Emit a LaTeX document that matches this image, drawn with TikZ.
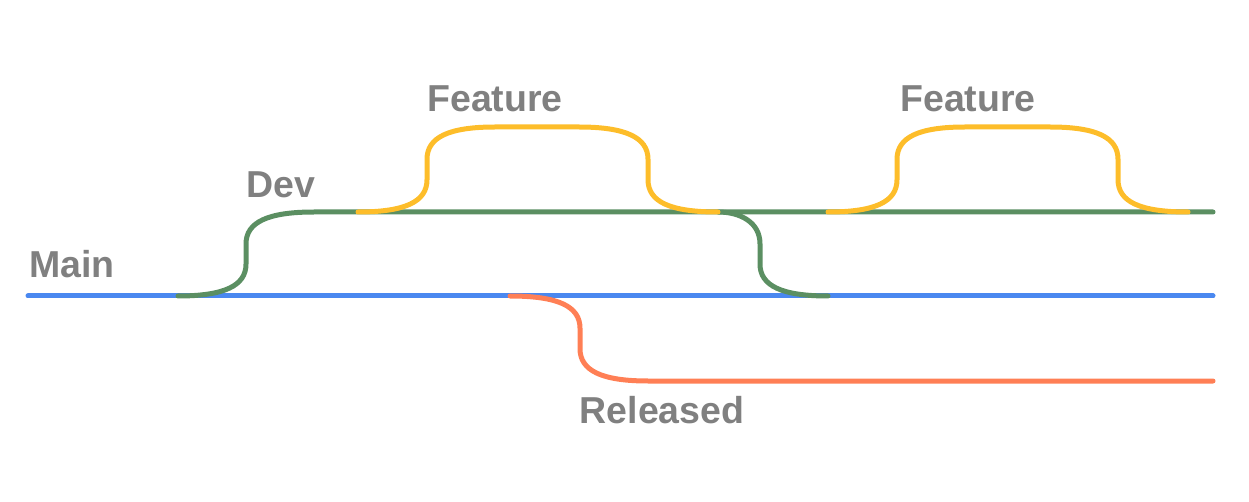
\documentclass[tikz,border=0pt]{standalone}
\usepackage{fontspec}
\setmainfont{Liberation Sans}
\definecolor{cmain}{HTML}{4A88F0}
\definecolor{cdev}{HTML}{5B8F62}
\definecolor{cfeat}{HTML}{FDBD2A}
\definecolor{crel}{HTML}{FF7F55}
\definecolor{ctext}{HTML}{808080}
% #1 x start, #2 y start, #3 x of vertical part, #4 y end
\newcommand\sUp[4]{.. controls ({#3-22},#2) and (#3,{#2+(#4-#2)*0.12}) .. (#3,{#2+(#4-#2)*0.38}) -- (#3,{#2+(#4-#2)*0.62}) .. controls (#3,{#2+(#4-#2)*0.88}) and ({#3+22},#4) .. ({#3+68},#4)}
\begin{document}
\begin{tikzpicture}[x=1pt,y=-1pt,line cap=round,
  lane/.style={line width=5pt},
  lbl/.style={text=ctext,font=\fontsize{37.5}{40}\selectfont\bfseries,anchor=base,inner sep=0pt}]
\useasboundingbox (0,0) rectangle (1249,502);
% coordinates
\coordinate (m0) at (28,296);
\coordinate (m1) at (1213,296);
\coordinate (d0) at (178,296);
\coordinate (d1) at (1213,212);
\coordinate (dd0) at (718,212);
\coordinate (dd1) at (828,296);
\coordinate (r0) at (510,296);
\coordinate (r1) at (1213,381);
\coordinate (fa0) at (358,212);
\coordinate (fa1) at (718,212);
\coordinate (fb0) at (828,212);
\coordinate (fb1) at (1188,212);
% main
\draw[lane,cmain] (m0) -- (m1);
% released
\draw[lane,crel] (r0) \sUp{510}{296}{580}{381} -- (r1);
% dev
\draw[lane,cdev] (d0) \sUp{178}{296}{246}{212} -- (d1);
\draw[lane,cdev] (dd0) .. controls (740,212) and (760,{212+84*0.12}) .. (760,{212+84*0.38}) -- (760,{212+84*0.62}) .. controls (760,{212+84*0.88}) and (782,296) .. (dd1);
% features
\draw[lane,cfeat] (fa0) \sUp{358}{212}{427}{127} -- (579,127)
  .. controls (625,127) and (648,{127+85*0.12}) .. (648,{127+85*0.38}) -- (648,{127+85*0.62}) .. controls (648,{127+85*0.88}) and (670,212) .. (fa1);
\draw[lane,cfeat] (fb0) \sUp{828}{212}{897}{127} -- (1050,127)
  .. controls (1096,127) and (1118,{127+85*0.12}) .. (1118,{127+85*0.38}) -- (1118,{127+85*0.62}) .. controls (1118,{127+85*0.88}) and (1140,212) .. (fb1);
% labels
\node[lbl] (tmain) at (72,278) {Main};
\node[lbl] (tdev) at (281,198) {Dev};
\node[lbl] (tf1) at (495,112) {Feature};
\node[lbl] (tf2) at (968,112) {Feature};
\node[lbl] (trel) at (662,423) {Released};
\end{tikzpicture}
\end{document}
